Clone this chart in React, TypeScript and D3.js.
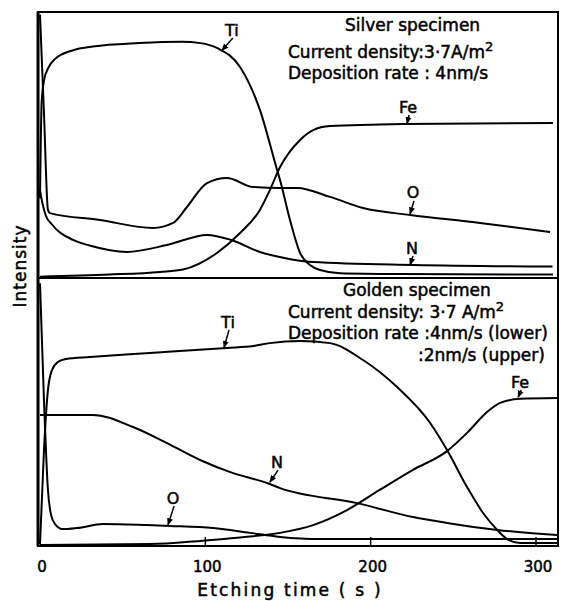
import React, { useRef, useEffect } from 'react';
import * as d3 from 'd3';

const WIDTH = 562;
const HEIGHT = 601;

// [etching time (s), intensity (arb. units, 0-100 within a panel)]
const silverTi = [[0, 30], [1, 66], [2.5, 74.5], [5, 79], [9, 82.3], [14, 84.3], [21, 85.8], [32, 87], [60, 88.3], [86, 88.8], [97, 88.3], [107, 86.5], [121, 79.3], [133, 63.2], [143.4, 40.6], [145.2, 36.8], [151.2, 21.8], [157.3, 9.4], [163.3, 4.9], [169.4, 3], [181.5, 1.8], [217.8, 1.5], [310.3, 1.3]];
const silverFe = [[0, 0.5], [42, 1.3], [72.6, 2.3], [86.5, 3.2], [107, 9.4], [121, 16.9], [133, 25.6], [139, 33], [145.2, 41.7], [157.3, 51.9], [165.2, 55.6], [175.4, 57.1], [219.6, 57.9], [310.3, 58.3]];
const silverO = [[0, 99], [2.4, 62], [4.8, 25.6], [6, 24.4], [36.3, 21.8], [68.4, 18.8], [80.5, 20.7], [88.9, 26.7], [101, 35.7], [113, 37.6], [128.9, 34.2], [145.2, 33.8], [155.5, 33.8], [175.4, 30.5], [195.4, 26.3], [223.8, 23.7], [266.2, 20.7], [308.5, 17.3]];
const silverN = [[0, 33], [1.5, 28], [3.5, 23.5], [7, 20.3], [20, 14.3], [30, 12.2], [52.6, 9.8], [76.8, 12.4], [101, 16.2], [115.7, 14.3], [133, 9.8], [145, 7.9], [165, 6], [226, 4.9], [310, 4.3]];

const goldenTi = [[0, 0.7], [2.4, 35.8], [4.8, 58.2], [7.3, 65.7], [10.9, 68.7], [15.7, 69.8], [30.2, 70.5], [66.5, 72], [113, 73.9], [128.9, 74.6], [139, 75.7], [157.3, 76.5], [175.4, 75.7], [195.4, 69.4], [216, 59.3], [236, 45.9], [246.2, 35.8], [258.3, 22], [268, 12.3], [276.5, 6], [282.5, 2.6], [290.4, 1.1], [312.8, 1.1]];
const goldenFe = [[0, 0.4], [66.5, 0.7], [96.8, 1.9], [121, 3.2], [145.2, 4.9], [165.2, 7.8], [185.7, 13.4], [205.7, 21], [225.6, 28.4], [246.2, 35.4], [258.3, 42.2], [270.4, 50], [278.3, 53.4], [290.4, 54.9], [312.8, 55.2]];
const goldenO = [[0, 98], [2.4, 54.5], [4.8, 20.9], [6.7, 11.6], [9.1, 8.2], [13.9, 6.3], [22.4, 6.7], [38.1, 8.2], [64.7, 7.8], [78.6, 7.5], [104.7, 6.7], [127, 4.9], [145.2, 3.4], [169.4, 2.6], [312.8, 2.6]];
const goldenN = [[0, 48.9], [32, 48.9], [56.3, 44.4], [76.8, 38.4], [96.8, 32.1], [116.8, 27.2], [137.3, 23.5], [145.2, 21.6], [191.8, 16], [225.6, 10.8], [246.2, 8.6], [276.5, 6], [312.8, 4.1]];

const timeTicks = [0, 100, 200, 300];

// curve labels: name, label position and arrow tip, in data units
const silverLabels = [
  { text: 'Ti', at: [116, 93.2], tip: [110, 85.5] },
  { text: 'Fe', at: [222.6, 64.3], tip: [222, 58] },
  { text: 'O', at: [225.6, 32], tip: [223.8, 24] },
  { text: 'N', at: [225, 11.3], tip: [223.8, 4.9] },
];
const goldenLabels = [
  { text: 'Ti', at: [113.7, 83.6], tip: [111.3, 74] },
  { text: 'N', at: [143.4, 31.3], tip: [139, 23.8] },
  { text: 'O', at: [80.5, 17.9], tip: [77.4, 7.8] },
  { text: 'Fe', at: [290.4, 61.2], tip: [289.2, 55.5] },
];

const FONT = '"DejaVu Sans", sans-serif';

export default function App() {
  const svgRef = useRef<SVGSVGElement>(null);

  useEffect(() => {
    const svg = d3.select(svgRef.current);
    svg.selectAll('*').remove();

    const x = d3.scaleLinear().domain([0, 300]).range([40, 536]);
    const yUpper = d3.scaleLinear().domain([0, 100]).range([278, 12]);
    const yLower = d3.scaleLinear().domain([0, 100]).range([546, 278]);
    const left = x(-1.2);
    const right = x(313.3);

    svg.append('defs').append('marker')
      .attr('id', 'arrow')
      .attr('viewBox', '0 0 10 10')
      .attr('refX', 9).attr('refY', 5)
      .attr('markerWidth', 5).attr('markerHeight', 5)
      .attr('orient', 'auto')
      .append('path')
      .attr('d', 'M0,1L10,5L0,9Z')
      .attr('fill', '#000');

    // bold-ish text: thin stroke thickens the glyphs like the photocopy
    const ink = (sel: any, size: number) => sel
      .style('font-family', FONT)
      .style('font-size', `${size}px`)
      .attr('fill', '#000')
      .attr('stroke', '#000')
      .attr('stroke-width', 0.5);

    const drawPanel = (y: d3.ScaleLinear<number, number>, series: number[][][], labels: any[]) => {
      const line = d3.line<number[]>()
        .x(d => x(d[0]))
        .y(d => y(d[1]))
        .curve(d3.curveMonotoneX);

      svg.append('g').selectAll('path')
        .data(series)
        .enter()
        .append('path')
        .attr('d', d => line(d))
        .attr('fill', 'none')
        .attr('stroke', '#000')
        .attr('stroke-width', 2);

      const g = svg.append('g');
      labels.forEach(l => {
        ink(g.append('text'), 16)
          .attr('x', x(l.at[0]))
          .attr('y', y(l.at[1]))
          .attr('dy', '0.35em')
          .attr('text-anchor', 'middle')
          .text(l.text);
        g.append('line')
          .attr('x1', x(l.at[0]) + 1)
          .attr('y1', y(l.at[1]) + 8)
          .attr('x2', x(l.tip[0]))
          .attr('y2', y(l.tip[1]))
          .attr('stroke', '#000')
          .attr('stroke-width', 1.5)
          .attr('marker-end', 'url(#arrow)');
      });
    };

    drawPanel(yUpper, [silverTi, silverFe, silverO, silverN], silverLabels);
    drawPanel(yLower, [goldenTi, goldenFe, goldenO, goldenN], goldenLabels);

    // frame and divider
    svg.append('rect')
      .attr('x', left).attr('y', 12)
      .attr('width', right - left).attr('height', 546 - 12)
      .attr('fill', 'none')
      .attr('stroke', '#000')
      .attr('stroke-width', 2);
    svg.append('line')
      .attr('x1', left).attr('x2', right)
      .attr('y1', 278).attr('y2', 278)
      .attr('stroke', '#000')
      .attr('stroke-width', 2);
    svg.append('line')
      .attr('x1', left).attr('x2', left)
      .attr('y1', 12).attr('y2', 546)
      .attr('stroke', '#000')
      .attr('stroke-width', 3);

    // x axis ticks (inward) and labels
    const axis = svg.append('g');
    axis.selectAll('line')
      .data(timeTicks.filter(t => t > 0))
      .enter()
      .append('line')
      .attr('x1', d => x(d)).attr('x2', d => x(d))
      .attr('y1', 546).attr('y2', 537)
      .attr('stroke', '#000')
      .attr('stroke-width', 1.5);
    ink(axis.selectAll('text')
      .data(timeTicks)
      .enter()
      .append('text'), 15)
      .attr('x', d => x(d) + 2)
      .attr('y', 572)
      .attr('text-anchor', 'middle')
      .text(d => d);

    ink(svg.append('text'), 17)
      .attr('x', 290)
      .attr('y', 596)
      .attr('text-anchor', 'middle')
      .style('letter-spacing', '2.2px')
      .text('Etching time  ( s )');

    ink(svg.append('text'), 17)
      .attr('transform', 'translate(26,266) rotate(-90)')
      .attr('text-anchor', 'middle')
      .style('letter-spacing', '1px')
      .text('Intensity');

    // specimen notes
    const note = (tx: number, ty: number, text: string, sup?: string) => {
      const t = ink(svg.append('text'), 17)
        .attr('x', tx).attr('y', ty)
        .text(text);
      if (sup) {
        t.append('tspan')
          .attr('dy', -7)
          .style('font-size', '13px')
          .text(sup);
      }
    };
    note(345, 31, 'Silver specimen');
    note(288, 58, 'Current density:3·7A/m', '2');
    note(288, 79, 'Deposition rate : 4nm/s');
    note(343, 296, 'Golden specimen');
    note(288, 318, 'Current density: 3·7 A/m', '2');
    note(288, 339, 'Deposition rate :4nm/s (lower)');
    note(418, 361, ':2nm/s (upper)');
  }, []);

  return (
    <svg
      ref={svgRef}
      width={WIDTH}
      height={HEIGHT}
      style={{ position: 'absolute', left: 0, top: 0, background: '#fff' }}
    />
  );
}
